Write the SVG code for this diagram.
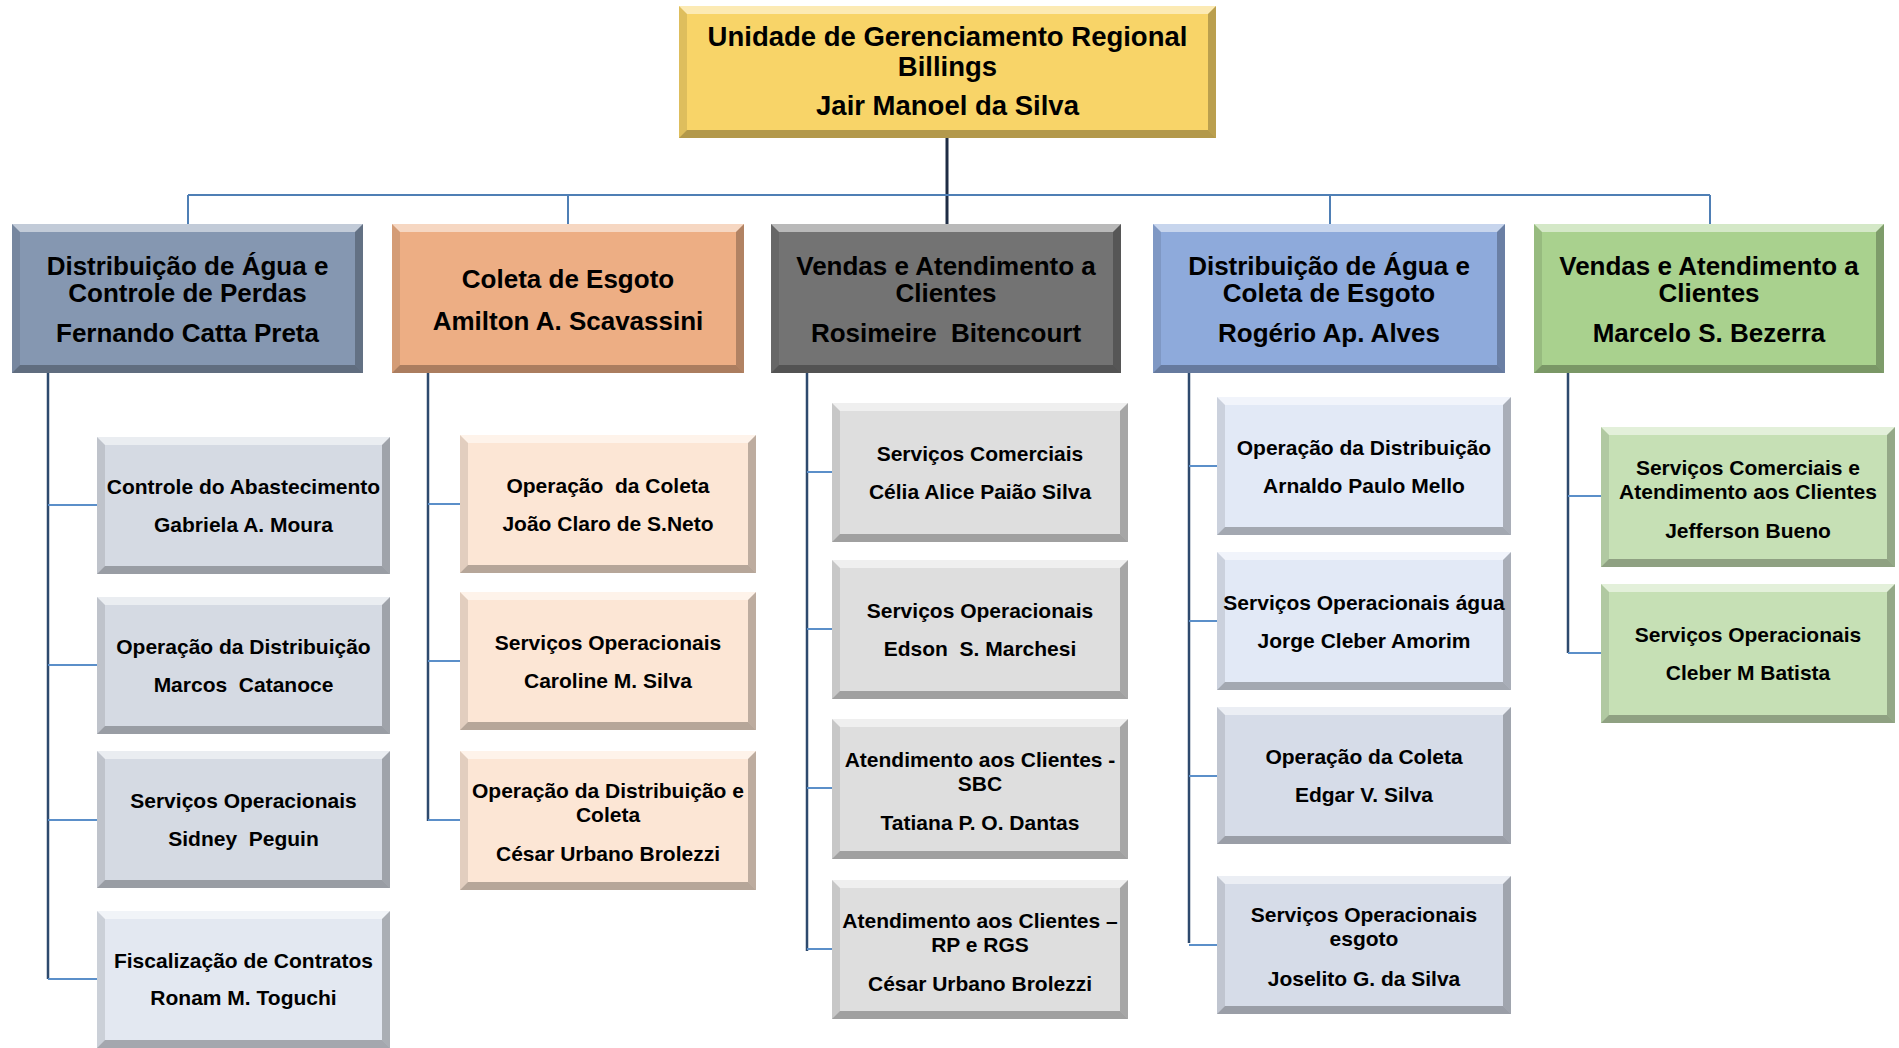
<svg xmlns="http://www.w3.org/2000/svg" width="1899" height="1048" viewBox="0 0 1899 1048">
<style>
text{font-family:"Liberation Sans",Arial,sans-serif;font-weight:bold;fill:#000;text-anchor:middle;white-space:pre}
.top{font-size:27.5px}
.big{font-size:26px}
.sm{font-size:21px}
.bt{fill:#fff;fill-opacity:.5}
.bl{fill:#000;fill-opacity:.10}
.br{fill:#000;fill-opacity:.25}
.bb{fill:#000;fill-opacity:.28}
.stem{stroke:#1F2D45;stroke-width:3;fill:none}
.bus{stroke:#4F7FB5;stroke-width:2;fill:none}
.vert{stroke:#2E4A6E;stroke-width:2.5;fill:none}
.stub{stroke:#5B8FC9;stroke-width:2;fill:none}
</style>
<rect width="1899" height="1048" fill="#fff"/>
<g id="connectors">
<path class="stem" d="M947 138V224"/>
<path class="bus" d="M188 195H1710M188 195V224M568 195V224M1330 195V224M1710 195V224"/>
<path class="vert" d="M48 373V979M428 373V821M807 373V951M1189 373V943M1568 373V653"/>
<path class="stub" d="M48 505H97M48 665H97M48 820H97M48 979H97"/>
<path class="stub" d="M428 504H460M428 661H460M428 820H460"/>
<path class="stub" d="M807 472H832M807 629H832M807 788H832M807 949H832"/>
<path class="stub" d="M1189 466H1217M1189 621H1217M1189 776H1217M1189 945H1217"/>
<path class="stub" d="M1568 496H1601M1568 653H1601"/>
</g>

<g id="top" transform="translate(679,6)">
<rect width="537" height="132" fill="#F8D468"/>
<polygon class="bt" points="0,0 537,0 529,8 8,8"/><polygon class="bl" points="0,0 8,8 8,124 0,132"/><polygon class="br" points="537,0 537,132 529,124 529,8"/><polygon class="bb" points="0,132 8,124 529,124 537,132"/>
<text class="top" x="268.5" y="40">Unidade de Gerenciamento Regional</text>
<text class="top" x="268.5" y="70">Billings</text>
<text class="top" x="268.5" y="109">Jair Manoel da Silva</text>
</g>

<g id="h1" transform="translate(12,224)">
<rect width="351" height="149" fill="#8597B1"/>
<polygon class="bt" points="0,0 351,0 343,8 8,8"/><polygon class="bl" points="0,0 8,8 8,141 0,149"/><polygon class="br" points="351,0 351,149 343,141 343,8"/><polygon class="bb" points="0,149 8,141 343,141 351,149"/>
<text class="big" x="175.5" y="51">Distribuição de Água e</text>
<text class="big" x="175.5" y="78">Controle de Perdas</text>
<text class="big" x="175.5" y="118">Fernando Catta Preta</text>
</g>
<g id="h2" transform="translate(392,224)">
<rect width="352" height="149" fill="#EDAE84"/>
<polygon class="bt" points="0,0 352,0 344,8 8,8"/><polygon class="bl" points="0,0 8,8 8,141 0,149"/><polygon class="br" points="352,0 352,149 344,141 344,8"/><polygon class="bb" points="0,149 8,141 344,141 352,149"/>
<text class="big" x="176" y="64">Coleta de Esgoto</text>
<text class="big" x="176" y="106">Amilton A. Scavassini</text>
</g>
<g id="h3" transform="translate(771,224)">
<rect width="350" height="149" fill="#737373"/>
<polygon class="bt" points="0,0 350,0 342,8 8,8"/><polygon class="bl" points="0,0 8,8 8,141 0,149"/><polygon class="br" points="350,0 350,149 342,141 342,8"/><polygon class="bb" points="0,149 8,141 342,141 350,149"/>
<text class="big" x="175" y="51">Vendas e Atendimento a</text>
<text class="big" x="175" y="78">Clientes</text>
<text class="big" x="175" y="118">Rosimeire  Bitencourt</text>
</g>
<g id="h4" transform="translate(1153,224)">
<rect width="352" height="149" fill="#8EAADB"/>
<polygon class="bt" points="0,0 352,0 344,8 8,8"/><polygon class="bl" points="0,0 8,8 8,141 0,149"/><polygon class="br" points="352,0 352,149 344,141 344,8"/><polygon class="bb" points="0,149 8,141 344,141 352,149"/>
<text class="big" x="176" y="51">Distribuição de Água e</text>
<text class="big" x="176" y="78">Coleta de Esgoto</text>
<text class="big" x="176" y="118">Rogério Ap. Alves</text>
</g>
<g id="h5" transform="translate(1534,224)">
<rect width="350" height="149" fill="#A9D18E"/>
<polygon class="bt" points="0,0 350,0 342,8 8,8"/><polygon class="bl" points="0,0 8,8 8,141 0,149"/><polygon class="br" points="350,0 350,149 342,141 342,8"/><polygon class="bb" points="0,149 8,141 342,141 350,149"/>
<text class="big" x="175" y="51">Vendas e Atendimento a</text>
<text class="big" x="175" y="78">Clientes</text>
<text class="big" x="175" y="118">Marcelo S. Bezerra</text>
</g>

<!-- column 1 -->
<g id="c1a" transform="translate(97,437)">
<rect width="293" height="137" fill="#D5DAE3"/>
<polygon class="bt" points="0,0 293,0 285,8 8,8"/><polygon class="bl" points="0,0 8,8 8,129 0,137"/><polygon class="br" points="293,0 293,137 285,129 285,8"/><polygon class="bb" points="0,137 8,129 285,129 293,137"/>
<text class="sm" x="146.5" y="57">Controle do Abastecimento</text>
<text class="sm" x="146.5" y="95">Gabriela A. Moura</text>
</g>
<g id="c1b" transform="translate(97,597)">
<rect width="293" height="137" fill="#D5DAE3"/>
<polygon class="bt" points="0,0 293,0 285,8 8,8"/><polygon class="bl" points="0,0 8,8 8,129 0,137"/><polygon class="br" points="293,0 293,137 285,129 285,8"/><polygon class="bb" points="0,137 8,129 285,129 293,137"/>
<text class="sm" x="146.5" y="57">Operação da Distribuição</text>
<text class="sm" x="146.5" y="95">Marcos  Catanoce</text>
</g>
<g id="c1c" transform="translate(97,751)">
<rect width="293" height="137" fill="#D5DAE3"/>
<polygon class="bt" points="0,0 293,0 285,8 8,8"/><polygon class="bl" points="0,0 8,8 8,129 0,137"/><polygon class="br" points="293,0 293,137 285,129 285,8"/><polygon class="bb" points="0,137 8,129 285,129 293,137"/>
<text class="sm" x="146.5" y="57">Serviços Operacionais</text>
<text class="sm" x="146.5" y="95">Sidney  Peguin</text>
</g>
<g id="c1d" transform="translate(97,911)">
<rect width="293" height="137" fill="#E3E8F1"/>
<polygon class="bt" points="0,0 293,0 285,8 8,8"/><polygon class="bl" points="0,0 8,8 8,129 0,137"/><polygon class="br" points="293,0 293,137 285,129 285,8"/><polygon class="bb" points="0,137 8,129 285,129 293,137"/>
<text class="sm" x="146.5" y="57">Fiscalização de Contratos</text>
<text class="sm" x="146.5" y="94">Ronam M. Toguchi</text>
</g>

<!-- column 2 -->
<g id="c2a" transform="translate(460,435)">
<rect width="296" height="138" fill="#FCE6D5"/>
<polygon class="bt" points="0,0 296,0 288,8 8,8"/><polygon class="bl" points="0,0 8,8 8,130 0,138"/><polygon class="br" points="296,0 296,138 288,130 288,8"/><polygon class="bb" points="0,138 8,130 288,130 296,138"/>
<text class="sm" x="148" y="58">Operação  da Coleta</text>
<text class="sm" x="148" y="96">João Claro de S.Neto</text>
</g>
<g id="c2b" transform="translate(460,592)">
<rect width="296" height="138" fill="#FCE6D5"/>
<polygon class="bt" points="0,0 296,0 288,8 8,8"/><polygon class="bl" points="0,0 8,8 8,130 0,138"/><polygon class="br" points="296,0 296,138 288,130 288,8"/><polygon class="bb" points="0,138 8,130 288,130 296,138"/>
<text class="sm" x="148" y="58">Serviços Operacionais</text>
<text class="sm" x="148" y="96">Caroline M. Silva</text>
</g>
<g id="c2c" transform="translate(460,751)">
<rect width="296" height="139" fill="#FCE6D5"/>
<polygon class="bt" points="0,0 296,0 288,8 8,8"/><polygon class="bl" points="0,0 8,8 8,131 0,139"/><polygon class="br" points="296,0 296,139 288,131 288,8"/><polygon class="bb" points="0,139 8,131 288,131 296,139"/>
<text class="sm" x="148" y="47">Operação da Distribuição e</text>
<text class="sm" x="148" y="71">Coleta</text>
<text class="sm" x="148" y="110">César Urbano Brolezzi</text>
</g>

<!-- column 3 -->
<g id="c3a" transform="translate(832,403)">
<rect width="296" height="139" fill="#DEDEDE"/>
<polygon class="bt" points="0,0 296,0 288,8 8,8"/><polygon class="bl" points="0,0 8,8 8,131 0,139"/><polygon class="br" points="296,0 296,139 288,131 288,8"/><polygon class="bb" points="0,139 8,131 288,131 296,139"/>
<text class="sm" x="148" y="58">Serviços Comerciais</text>
<text class="sm" x="148" y="96">Célia Alice Paião Silva</text>
</g>
<g id="c3b" transform="translate(832,560)">
<rect width="296" height="139" fill="#DEDEDE"/>
<polygon class="bt" points="0,0 296,0 288,8 8,8"/><polygon class="bl" points="0,0 8,8 8,131 0,139"/><polygon class="br" points="296,0 296,139 288,131 288,8"/><polygon class="bb" points="0,139 8,131 288,131 296,139"/>
<text class="sm" x="148" y="58">Serviços Operacionais</text>
<text class="sm" x="148" y="96">Edson  S. Marchesi</text>
</g>
<g id="c3c" transform="translate(832,719)">
<rect width="296" height="140" fill="#DEDEDE"/>
<polygon class="bt" points="0,0 296,0 288,8 8,8"/><polygon class="bl" points="0,0 8,8 8,132 0,140"/><polygon class="br" points="296,0 296,140 288,132 288,8"/><polygon class="bb" points="0,140 8,132 288,132 296,140"/>
<text class="sm" x="148" y="48">Atendimento aos Clientes -</text>
<text class="sm" x="148" y="72">SBC</text>
<text class="sm" x="148" y="111">Tatiana P. O. Dantas</text>
</g>
<g id="c3d" transform="translate(832,880)">
<rect width="296" height="139" fill="#DEDEDE"/>
<polygon class="bt" points="0,0 296,0 288,8 8,8"/><polygon class="bl" points="0,0 8,8 8,131 0,139"/><polygon class="br" points="296,0 296,139 288,131 288,8"/><polygon class="bb" points="0,139 8,131 288,131 296,139"/>
<text class="sm" x="148" y="48">Atendimento aos Clientes –</text>
<text class="sm" x="148" y="72">RP e RGS</text>
<text class="sm" x="148" y="111">César Urbano Brolezzi</text>
</g>

<!-- column 4 -->
<g id="c4a" transform="translate(1217,397)">
<rect width="294" height="138" fill="#E2E9F6"/>
<polygon class="bt" points="0,0 294,0 286,8 8,8"/><polygon class="bl" points="0,0 8,8 8,130 0,138"/><polygon class="br" points="294,0 294,138 286,130 286,8"/><polygon class="bb" points="0,138 8,130 286,130 294,138"/>
<text class="sm" x="147" y="58">Operação da Distribuição</text>
<text class="sm" x="147" y="96">Arnaldo Paulo Mello</text>
</g>
<g id="c4b" transform="translate(1217,552)">
<rect width="294" height="138" fill="#E2E9F6"/>
<polygon class="bt" points="0,0 294,0 286,8 8,8"/><polygon class="bl" points="0,0 8,8 8,130 0,138"/><polygon class="br" points="294,0 294,138 286,130 286,8"/><polygon class="bb" points="0,138 8,130 286,130 294,138"/>
<text class="sm" x="147" y="58">Serviços Operacionais água</text>
<text class="sm" x="147" y="96">Jorge Cleber Amorim</text>
</g>
<g id="c4c" transform="translate(1217,707)">
<rect width="294" height="137" fill="#D6DCE8"/>
<polygon class="bt" points="0,0 294,0 286,8 8,8"/><polygon class="bl" points="0,0 8,8 8,129 0,137"/><polygon class="br" points="294,0 294,137 286,129 286,8"/><polygon class="bb" points="0,137 8,129 286,129 294,137"/>
<text class="sm" x="147" y="57">Operação da Coleta</text>
<text class="sm" x="147" y="95">Edgar V. Silva</text>
</g>
<g id="c4d" transform="translate(1217,876)">
<rect width="294" height="138" fill="#D6DCE8"/>
<polygon class="bt" points="0,0 294,0 286,8 8,8"/><polygon class="bl" points="0,0 8,8 8,130 0,138"/><polygon class="br" points="294,0 294,138 286,130 286,8"/><polygon class="bb" points="0,138 8,130 286,130 294,138"/>
<text class="sm" x="147" y="46">Serviços Operacionais</text>
<text class="sm" x="147" y="70">esgoto</text>
<text class="sm" x="147" y="110">Joselito G. da Silva</text>
</g>

<!-- column 5 -->
<g id="c5a" transform="translate(1601,427)">
<rect width="294" height="140" fill="#C6E0B5"/>
<polygon class="bt" points="0,0 294,0 286,8 8,8"/><polygon class="bl" points="0,0 8,8 8,132 0,140"/><polygon class="br" points="294,0 294,140 286,132 286,8"/><polygon class="bb" points="0,140 8,132 286,132 294,140"/>
<text class="sm" x="147" y="48">Serviços Comerciais e</text>
<text class="sm" x="147" y="72">Atendimento aos Clientes</text>
<text class="sm" x="147" y="111">Jefferson Bueno</text>
</g>
<g id="c5b" transform="translate(1601,584)">
<rect width="294" height="139" fill="#C6E0B5"/>
<polygon class="bt" points="0,0 294,0 286,8 8,8"/><polygon class="bl" points="0,0 8,8 8,131 0,139"/><polygon class="br" points="294,0 294,139 286,131 286,8"/><polygon class="bb" points="0,139 8,131 286,131 294,139"/>
<text class="sm" x="147" y="58">Serviços Operacionais</text>
<text class="sm" x="147" y="96">Cleber M Batista</text>
</g>
</svg>
